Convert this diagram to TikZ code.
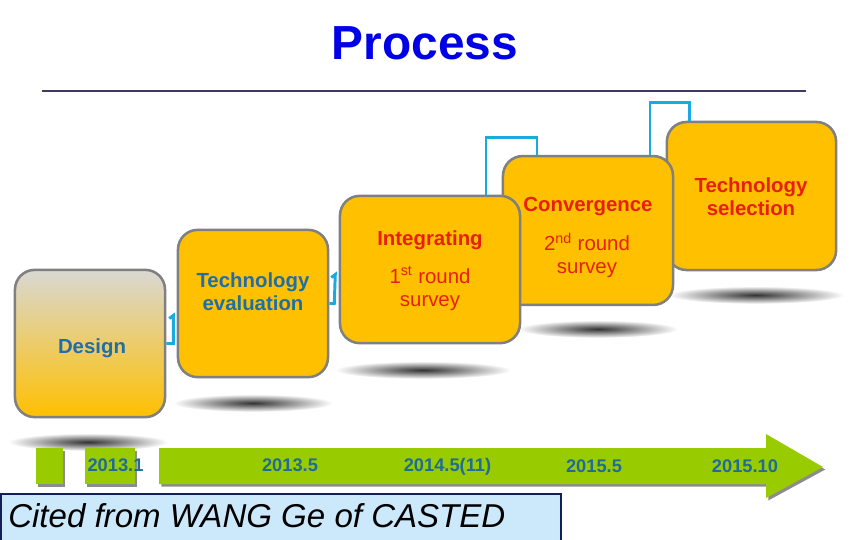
\documentclass[tikz,border=0pt]{standalone}
\usepackage{fontspec}
\setmainfont{Liberation Sans}
\usepackage{tikz}
\usetikzlibrary{shadows}
\definecolor{boxorange}{RGB}{255,192,0}
\definecolor{boxgray}{RGB}{217,216,212}
\definecolor{boxmid}{RGB}{236,206,150}
\definecolor{boxborder}{RGB}{128,128,128}
\definecolor{linkblue}{RGB}{28,169,224}
\definecolor{labelblue}{RGB}{31,110,168}
\definecolor{labelred}{RGB}{230,32,12}
\definecolor{titleblue}{RGB}{0,0,230}
\definecolor{rulenavy}{RGB}{59,59,98}
\definecolor{timegreen}{RGB}{153,204,0}
\definecolor{datecolor}{RGB}{31,108,150}
\definecolor{citefill}{RGB}{204,233,251}
\definecolor{citeborder}{RGB}{20,30,90}
\pgfdeclareradialshading{floor}{\pgfpointorigin}{color(0bp)=(black!80); color(8bp)=(black!55); color(25bp)=(white); color(50bp)=(white)}
\newcommand{\heightstage}{3.68cm}
\newcommand{\widthstage}{3.75cm}
\tikzset{
    stage/.style={draw=boxborder, line width=1.8pt, fill=boxorange, rounded corners=14pt,
        minimum width=\widthstage, minimum height=\heightstage, inner sep=0pt},
    link/.style={linkblue, line width=2.1pt},
    boldlabel/.style={font=\fontsize{14.5}{16.5}\selectfont\bfseries, align=center, inner sep=0pt},
    bluelabel/.style={boldlabel, labelblue},
    redlabel/.style={boldlabel, labelred},
    redtext/.style={font=\fontsize{14.5}{16.5}\selectfont, labelred, align=center, inner sep=0pt},
    date/.style={font=\fontsize{13}{15}\selectfont\bfseries, datecolor, inner sep=0pt, anchor=base},
    timebar/.style={fill=timegreen, drop shadow={shadow xshift=1.6pt, shadow yshift=-1.8pt, fill=black!45, opacity=1}}
}

\begin{document}
\begin{tikzpicture}[x=0.025cm, y=-0.025cm]
    \useasboundingbox[fill=white] (0,0) rectangle (851,540);

    % title and rule
    \node[font=\fontsize{34}{40}\selectfont\bfseries, titleblue, inner sep=0pt] (title) at (425,43.5) {Process};
    \draw[rulenavy, line width=1.4pt] (42,91) -- (806,91);

    % floor shadows
    \shade[shading=floor] (88,442) ellipse (2.0cm and 0.22cm);
    \shade[shading=floor] (253,403) ellipse (2.0cm and 0.22cm);
    \shade[shading=floor] (423,370) ellipse (2.2cm and 0.22cm);
    \shade[shading=floor] (598,329) ellipse (2.0cm and 0.22cm);
    \shade[shading=floor] (756,295) ellipse (2.2cm and 0.22cm);

    % stages, back to front
    \node[stage, minimum width=4.23cm, minimum height=3.7cm] (tsel) at (751.5,196) {};
    \node[stage, minimum width=4.25cm, minimum height=3.72cm] (conv) at (588,230.5) {};
    \node[stage, minimum width=4.5cm] (integ) at (430,269.5) {};
    \node[stage] (teval) at (253,303.5) {};
    \node[stage, shade, top color=boxgray, middle color=boxmid, bottom color=boxorange] (design) at (90,343.5) {};

    % links between stages
    \draw[link] (design.east) -- ++(7,0) -- ++(0,-28) -- ++(-4,3);
    \draw[link] (teval.east) -- ++(5,0) -- ++(1,-29) -- ++(-4,3);
    \draw[link] ([xshift=1.4cm]integ.north) -- ++(0,-57) -| ([xshift=-1.275cm]conv.north);
    \draw[link] ([xshift=1.55cm]conv.north) -- ++(0,-52) -| ([xshift=-1.54cm]tsel.north);

    % stage texts
    \node[bluelabel] (design-text) at (92,348) {Design};
    \node[bluelabel] (teval-text) at (253,291.5) {Technology\\evaluation};
    \node[redlabel] (integ-title) at (430,240) {Integrating};
    \node[redtext] (integ-text) at (430,288.5) {1\textsuperscript{st} round\\survey};
    \node[redlabel] (conv-title) at (588,207) {Convergence};
    \node[redtext] (conv-text) at (587,255.5) {2\textsuperscript{nd} round\\survey};
    \node[redlabel] (tsel-text) at (751,197) {Technology\\selection};

    % time line
    \path[timebar] (36,448) rectangle (63,484);
    \path[timebar] (85,448) rectangle (135,484);
    \path[timebar] (159,448) -- (766,448) -- (766,434) -- (823,467) -- (766,498) -- (766,484) -- (159,484) -- cycle;
    \node[date] (d-2013-1) at (115.5,471.5) {2013.1};
    \node[date] (d-2013-5) at (290,471.5) {2013.5};
    \node[date] (d-2014-5) at (447.5,471.5) {2014.5(11)};
    \node[date] (d-2015-5) at (594,472) {2015.5};
    \node[date] (d-2015-10) at (745,472) {2015.10};

    % citation
    \filldraw[fill=citefill, draw=citeborder, line width=0.8pt] (1,494) rectangle (561,548);
    \node[font=\fontsize{23.5}{27}\selectfont\itshape, anchor=west, inner sep=0pt] (cite) at (8,516) {Cited from WANG Ge of CASTED};
\end{tikzpicture}
\end{document}
